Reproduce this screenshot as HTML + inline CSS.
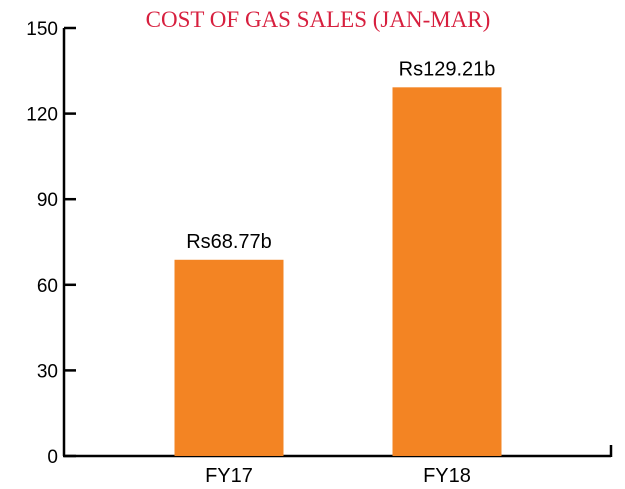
<!DOCTYPE html>
<html><head><meta charset="utf-8"><style>
html,body{margin:0;padding:0;background:#fff;}
svg{display:block;}
</style></head><body>
<svg width="625" height="489" viewBox="0 0 625 489" font-family="'Liberation Sans', sans-serif">
<text x="318" y="27" text-anchor="middle" font-family="'Liberation Serif', serif" font-size="23" fill="#d71f3e">COST OF GAS SALES (JAN-MAR)</text>
<g id="axes"></g>
<g id="bars"></g>
</svg>
<script>
const categories = ["FY17", "FY18"];
const values = [68.77, 129.21];
const valueLabels = ["Rs68.77b", "Rs129.21b"];
const yTicks = [0, 30, 60, 90, 120, 150];

const NS = "http://www.w3.org/2000/svg";
const x0 = 64, x1 = 611, yBase = 456, yTop = 28, yMax = 150;
function y(v){ return yBase - (v / yMax) * (yBase - yTop); }
const bandCenters = [229, 447];
const barW = 109;
function xc(i){ return x0 + (bandCenters[i] - x0) * (categories.length / 2); }
function mk(tag, attrs, parent){ const e = document.createElementNS(NS, tag); for (const k in attrs) e.setAttribute(k, attrs[k]); parent.appendChild(e); return e; }

const axes = document.getElementById("axes");
const bars = document.getElementById("bars");
let l = mk("line", {x1: x0, y1: yTop, x2: x0, y2: yBase, stroke: "#000", "stroke-width": 2.5}, axes);


l = mk("line", {x1: x0 - 1, y1: yBase, x2: x1, y2: yBase, stroke: "#000", "stroke-width": 2.5}, axes);


l = mk("line", {x1: x1, y1: yBase + 1, x2: x1, y2: yBase - 11, stroke: "#000", "stroke-width": 2.5}, axes);


yTicks.forEach(t => {
  const tk = mk("line", {x1: x0, y1: y(t), x2: x0 + 12, y2: y(t), stroke: "#000", "stroke-width": 2.5}, axes);
  
  
  const tx = mk("text", {x: x0 - 6, y: y(t) + 7, "text-anchor": "end", "font-size": 19, fill: "#000"}, axes);
  tx.textContent = t;
  
  
});
categories.forEach((c, i) => {
  const cx = xc(i);
  const r = mk("rect", {x: cx - barW / 2, y: y(values[i]), width: barW, height: yBase - y(values[i]), fill: "#f38423"}, bars);
  
  
  const vl = mk("text", {x: cx, y: y(values[i]) - 12, "text-anchor": "middle", "font-size": 20, fill: "#000"}, bars);
  vl.textContent = valueLabels[i];
  
  
  const cl = mk("text", {x: cx, y: 482, "text-anchor": "middle", "font-size": 20, fill: "#000"}, bars);
  cl.textContent = c;
  
  
});
</script>
</body></html>
